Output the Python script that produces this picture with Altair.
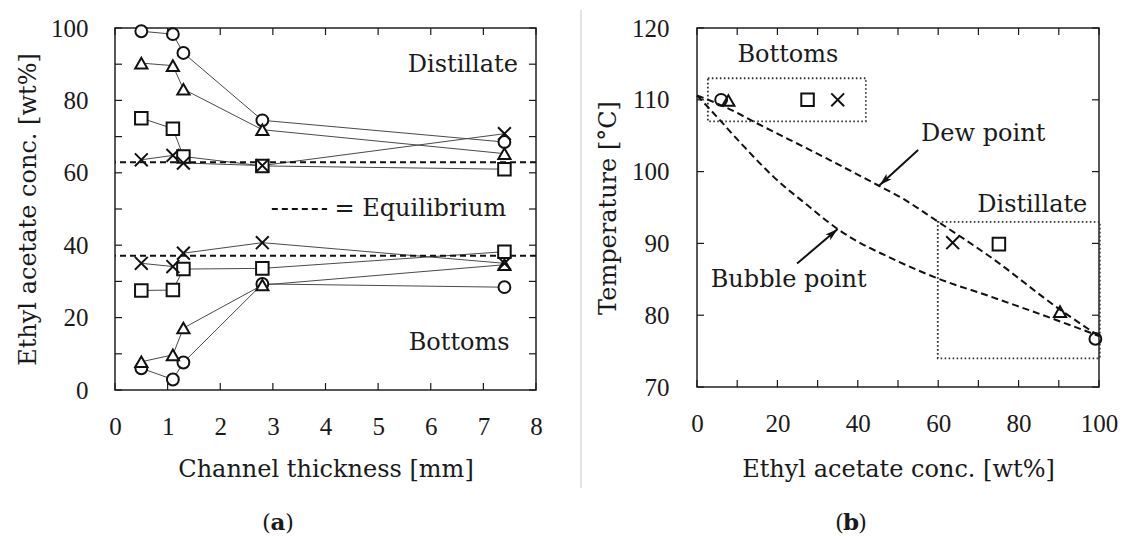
import math
import altair as alt
import pandas as pd

# ---------------- panel (a): concentration vs channel thickness ----------------
thickness_mm = [0.5, 1.1, 1.3, 2.8, 7.4]
series_names = ["circle", "triangle", "square", "cross"]

distillate_circle = [99.1, 98.3, 93.1, 74.5, 68.5]
distillate_triangle = [90.3, 89.6, 83.1, 71.9, 65.3]
distillate_square = [75.1, 72.2, 64.5, 61.9, 61.0]
distillate_cross = [63.6, 64.8, 62.7, 62.0, 70.8]

bottoms_circle = [6.0, 2.9, 7.6, 29.3, 28.4]
bottoms_triangle = [7.8, 9.7, 17.1, 29.0, 34.6]
bottoms_square = [27.5, 27.6, 33.4, 33.6, 38.2]
bottoms_cross = [35.0, 34.1, 37.8, 40.7, 35.0]

equilibrium_conc = [62.9, 37.1]
legend_dash_x = [2.98, 4.03]
legend_dash_y = [50.0]

text_a_center = ["Distillate", "Bottoms"]
text_a_center_x = [6.61, 6.54]
text_a_center_y = [89.9, 12.9]
text_a_left = ["= Equilibrium"]
text_a_left_x = [4.17]
text_a_left_y = [50.0]

x_labels_a = [0, 1, 2, 3, 4, 5, 6, 7, 8]
y_labels_a = [0, 20, 40, 60, 80, 100]
x_ticks_a = [0, 1, 2, 3, 4, 5, 6, 7, 8]
y_ticks_a = [0, 10, 20, 30, 40, 50, 60, 70, 80, 90, 100]

# ---------------- panel (b): temperature vs concentration ----------------
bottoms_conc_b = [6.0, 7.8, 27.5, 35.0]
bottoms_temp_b = [110.0, 109.9, 110.0, 110.0]
distillate_conc_b = [99.1, 90.3, 75.1, 63.6]
distillate_temp_b = [76.7, 80.5, 89.9, 90.1]

dew_conc = [0, 7, 15, 32, 45, 51, 60, 73, 90.5, 100]
dew_temp = [110.6, 109.0, 106.7, 101.9, 98.1, 96.3, 93.0, 88.1, 80.7, 77.1]
bubble_conc = [0, 2.7, 11, 19, 27.5, 35, 50, 60, 73, 90, 100]
bubble_temp = [110.6, 109.0, 103.9, 99.3, 95.3, 92.0, 87.5, 85.1, 82.6, 79.2, 77.1]

box_x1 = [2.7, 59.9]
box_x2 = [42.0, 100.2]
box_y1 = [107.0, 74.0]
box_y2 = [113.0, 93.0]

arrow_x_from = [55.0, 24.9]
arrow_y_from = [103.0, 87.2]
arrow_x_to = [45.4, 35.0]
arrow_y_to = [98.1, 92.0]

text_b = ["Bottoms", "Dew point", "Distillate", "Bubble point"]
text_b_x = [22.6, 71.2, 83.4, 22.8]
text_b_y = [116.3, 105.3, 95.3, 84.9]

x_labels_b = [0, 20, 40, 60, 80, 100]
y_labels_b = [70, 80, 90, 100, 110, 120]
x_ticks_b = [0, 10, 20, 30, 40, 50, 60, 70, 80, 90, 100]
y_ticks_b = [70, 80, 90, 100, 110, 120]

panel_tags = ["a", "b"]

# ---------------- styling ----------------
W_A, H_A = 421, 362
W_B, H_B = 402, 359
TXT_FONT = "DejaVu Serif"
NUM_FONT = "Liberation Serif"
INK = "#1a1a1a"
TICK_LEN = 7
X_PATH = "M-1,-1L1,1M-1,1L1,-1"
ARROW_PATH = "M0,0L0.6,2.1L0,1.6L-0.6,2.1Z"
shape_range = ["circle", "triangle-up", "square", X_PATH]
size_range = [140, 165, 160, 115]


def make_axis(values, title, **kw):
    return alt.Axis(values=values, format="d", title=title, ticks=False, tickSize=0,
                    domain=False, grid=False, labelFlush=False, labelOverlap=False,
                    labelFont=NUM_FONT, labelFontSize=25,
                    labelColor=INK, titleFont=TXT_FONT, titleFontSize=24,
                    titleFontWeight="normal", titleColor=INK,
                    titleBaseline="alphabetic", **kw)


AX_XA = make_axis(x_labels_a, "Channel thickness [mm]", labelPadding=24, titleY=86)
AX_YA = make_axis(y_labels_a, "Ethyl acetate conc. [wt%]", labelPadding=27, titleX=-80)
AX_XB = make_axis(x_labels_b, "Ethyl acetate conc. [wt%]", labelPadding=24, titleY=89)
AX_YB = make_axis(y_labels_b, "Temperature [°C]", labelPadding=28, titleX=-82)

SC_XA = alt.Scale(domain=[0, 8], nice=False, zero=False)
SC_YA = alt.Scale(domain=[0, 100], nice=False, zero=False)
SC_XB = alt.Scale(domain=[0, 100], nice=False, zero=False)
SC_YB = alt.Scale(domain=[70, 120], nice=False, zero=False)


def xA(f):
    return alt.X(f, type="quantitative", scale=SC_XA, axis=AX_XA)


def yA(f):
    return alt.Y(f, type="quantitative", scale=SC_YA, axis=AX_YA)


def xB(f):
    return alt.X(f, type="quantitative", scale=SC_XB, axis=AX_XB)


def yB(f):
    return alt.Y(f, type="quantitative", scale=SC_YB, axis=AX_YB)


def tick_layers(xvals, yvals, xenc, yenc, W, H):
    rule = dict(color=INK, strokeWidth=1.2)
    dx = pd.DataFrame({"t": xvals})
    dy = pd.DataFrame({"t": yvals})
    return [
        alt.Chart(dx).mark_rule(**rule).encode(x=xenc("t"), y=alt.value(H), y2=alt.value(H - TICK_LEN)),
        alt.Chart(dx).mark_rule(**rule).encode(x=xenc("t"), y=alt.value(0), y2=alt.value(TICK_LEN)),
        alt.Chart(dy).mark_rule(**rule).encode(y=yenc("t"), x=alt.value(0), x2=alt.value(TICK_LEN)),
        alt.Chart(dy).mark_rule(**rule).encode(y=yenc("t"), x=alt.value(W), x2=alt.value(W - TICK_LEN)),
    ]


def tag_layers(tag, cx, cy):
    d = pd.DataFrame({"tag": [tag]})
    base = dict(font=TXT_FONT, fontSize=23, color=INK, baseline="middle")
    return [
        alt.Chart(d).mark_text(text="(", align="right", **base).encode(x=alt.value(cx - 7), y=alt.value(cy)),
        alt.Chart(d).mark_text(align="center", fontWeight="bold", **base).encode(
            text="tag:N", x=alt.value(cx), y=alt.value(cy)),
        alt.Chart(d).mark_text(text=")", align="left", **base).encode(x=alt.value(cx + 7), y=alt.value(cy)),
    ]


shape_enc = alt.Shape("series:N", scale=alt.Scale(domain=series_names, range=shape_range), legend=None)
size_enc = alt.Size("series:N", scale=alt.Scale(domain=series_names, range=size_range), legend=None)

# ---------------- build panel (a) ----------------
rows = []
for grp, arrs in (("Distillate", [distillate_circle, distillate_triangle, distillate_square, distillate_cross]),
                  ("Bottoms", [bottoms_circle, bottoms_triangle, bottoms_square, bottoms_cross])):
    for name, vals in zip(series_names, arrs):
        for t, v in zip(thickness_mm, vals):
            rows.append({"thickness": t, "conc": v, "series": name, "key": grp + "-" + name})
df_a = pd.DataFrame(rows)

lines_a = alt.Chart(df_a).mark_line(color="#4a4a4a", strokeWidth=1).encode(
    x=xA("thickness"), y=yA("conc"), detail="key:N")
eq_a = alt.Chart(pd.DataFrame({"eq": equilibrium_conc})).mark_rule(
    color="#111111", strokeWidth=2, strokeDash=[6, 4]).encode(y=yA("eq"))
leg_a = alt.Chart(pd.DataFrame({"x1": [legend_dash_x[0]], "x2": [legend_dash_x[1]], "y": legend_dash_y})).mark_rule(
    color="#111111", strokeWidth=2, strokeDash=[6, 4]).encode(x=xA("x1"), x2="x2:Q", y=yA("y"))
txt_a1 = alt.Chart(pd.DataFrame({"t": text_a_center, "x": text_a_center_x, "y": text_a_center_y})).mark_text(
    font=TXT_FONT, fontSize=24, color=INK, align="center", baseline="middle").encode(x=xA("x"), y=yA("y"), text="t:N")
txt_a2 = alt.Chart(pd.DataFrame({"t": text_a_left, "x": text_a_left_x, "y": text_a_left_y})).mark_text(
    font=TXT_FONT, fontSize=24, color=INK, align="left", baseline="middle").encode(x=xA("x"), y=yA("y"), text="t:N")
pts_a = alt.Chart(df_a).mark_point(fill="white", fillOpacity=1, stroke="#111111", strokeWidth=2, opacity=1).encode(
    x=xA("thickness"), y=yA("conc"), shape=shape_enc, size=size_enc)

panel_a = alt.layer(
    lines_a, eq_a, leg_a, txt_a1, txt_a2, pts_a,
    *tick_layers(x_ticks_a, y_ticks_a, xA, yA, W_A, H_A),
    *tag_layers(panel_tags[0], 163, 495),
).properties(width=W_A, height=H_A)

# ---------------- build panel (b) ----------------
df_b = pd.DataFrame({
    "conc": bottoms_conc_b + distillate_conc_b,
    "temp": bottoms_temp_b + distillate_temp_b,
    "series": series_names + series_names,
})
df_curves = pd.DataFrame({
    "conc": dew_conc + bubble_conc,
    "temp": dew_temp + bubble_temp,
    "curve": ["dew"] * len(dew_conc) + ["bubble"] * len(bubble_conc),
})
angles = []
for xf, yf, xt, yt in zip(arrow_x_from, arrow_y_from, arrow_x_to, arrow_y_to):
    dxp = (xt - xf) * W_B / 100.0
    dyp = -(yt - yf) * H_B / 50.0
    angles.append(math.degrees(math.atan2(dxp, -dyp)) % 360)
df_arrows = pd.DataFrame({"xf": arrow_x_from, "yf": arrow_y_from, "xt": arrow_x_to, "yt": arrow_y_to, "ang": angles})

boxes_b = alt.Chart(pd.DataFrame({"x1": box_x1, "x2": box_x2, "y1": box_y1, "y2": box_y2})).mark_rect(
    fillOpacity=0, stroke="#333333", strokeWidth=1.8, strokeDash=[1.6, 2.4]).encode(
    x=xB("x1"), x2="x2:Q", y=yB("y1"), y2="y2:Q")
curves_b = alt.Chart(df_curves).mark_line(color="#111111", strokeWidth=2, strokeDash=[7, 4], interpolate="monotone").encode(
    x=xB("conc"), y=yB("temp"), detail="curve:N")
arrow_lines = alt.Chart(df_arrows).mark_rule(color="#111111", strokeWidth=2).encode(
    x=xB("xf"), y=yB("yf"), x2="xt:Q", y2="yt:Q")
arrow_heads = alt.Chart(df_arrows).mark_point(shape=ARROW_PATH, filled=True, color="#111111", size=150, opacity=1).encode(
    x=xB("xt"), y=yB("yt"), angle=alt.Angle("ang:Q", scale=None))
txt_b = alt.Chart(pd.DataFrame({"t": text_b, "x": text_b_x, "y": text_b_y})).mark_text(
    font=TXT_FONT, fontSize=24, color=INK, align="center", baseline="middle").encode(x=xB("x"), y=yB("y"), text="t:N")
pts_b = alt.Chart(df_b).mark_point(filled=False, stroke="#111111", strokeWidth=2, opacity=1).encode(
    x=xB("conc"), y=yB("temp"), shape=shape_enc, size=size_enc)
separator = alt.Chart(pd.DataFrame({"k": [0]})).mark_rule(color="#c8c8c8", strokeWidth=1).encode(
    x=alt.value(-116), y=alt.value(-18), y2=alt.value(460))

panel_b = alt.layer(
    boxes_b, curves_b, arrow_lines, arrow_heads, txt_b, pts_b, separator,
    *tick_layers(x_ticks_b, y_ticks_b, xB, yB, W_B, H_B),
    *tag_layers(panel_tags[1], 154, 495),
).properties(width=W_B, height=H_B)

chart = alt.hconcat(panel_a, panel_b, spacing=161, bounds="flush").resolve_scale(
    x="independent", y="independent", shape="independent", size="independent"
).properties(
    padding={"left": 15, "top": 8, "right": 0, "bottom": 0},
    background="white",
).configure_view(stroke="#222222", strokeWidth=1.5)

chart.save("out.html", embed_options={"renderer": "svg", "actions": False})
